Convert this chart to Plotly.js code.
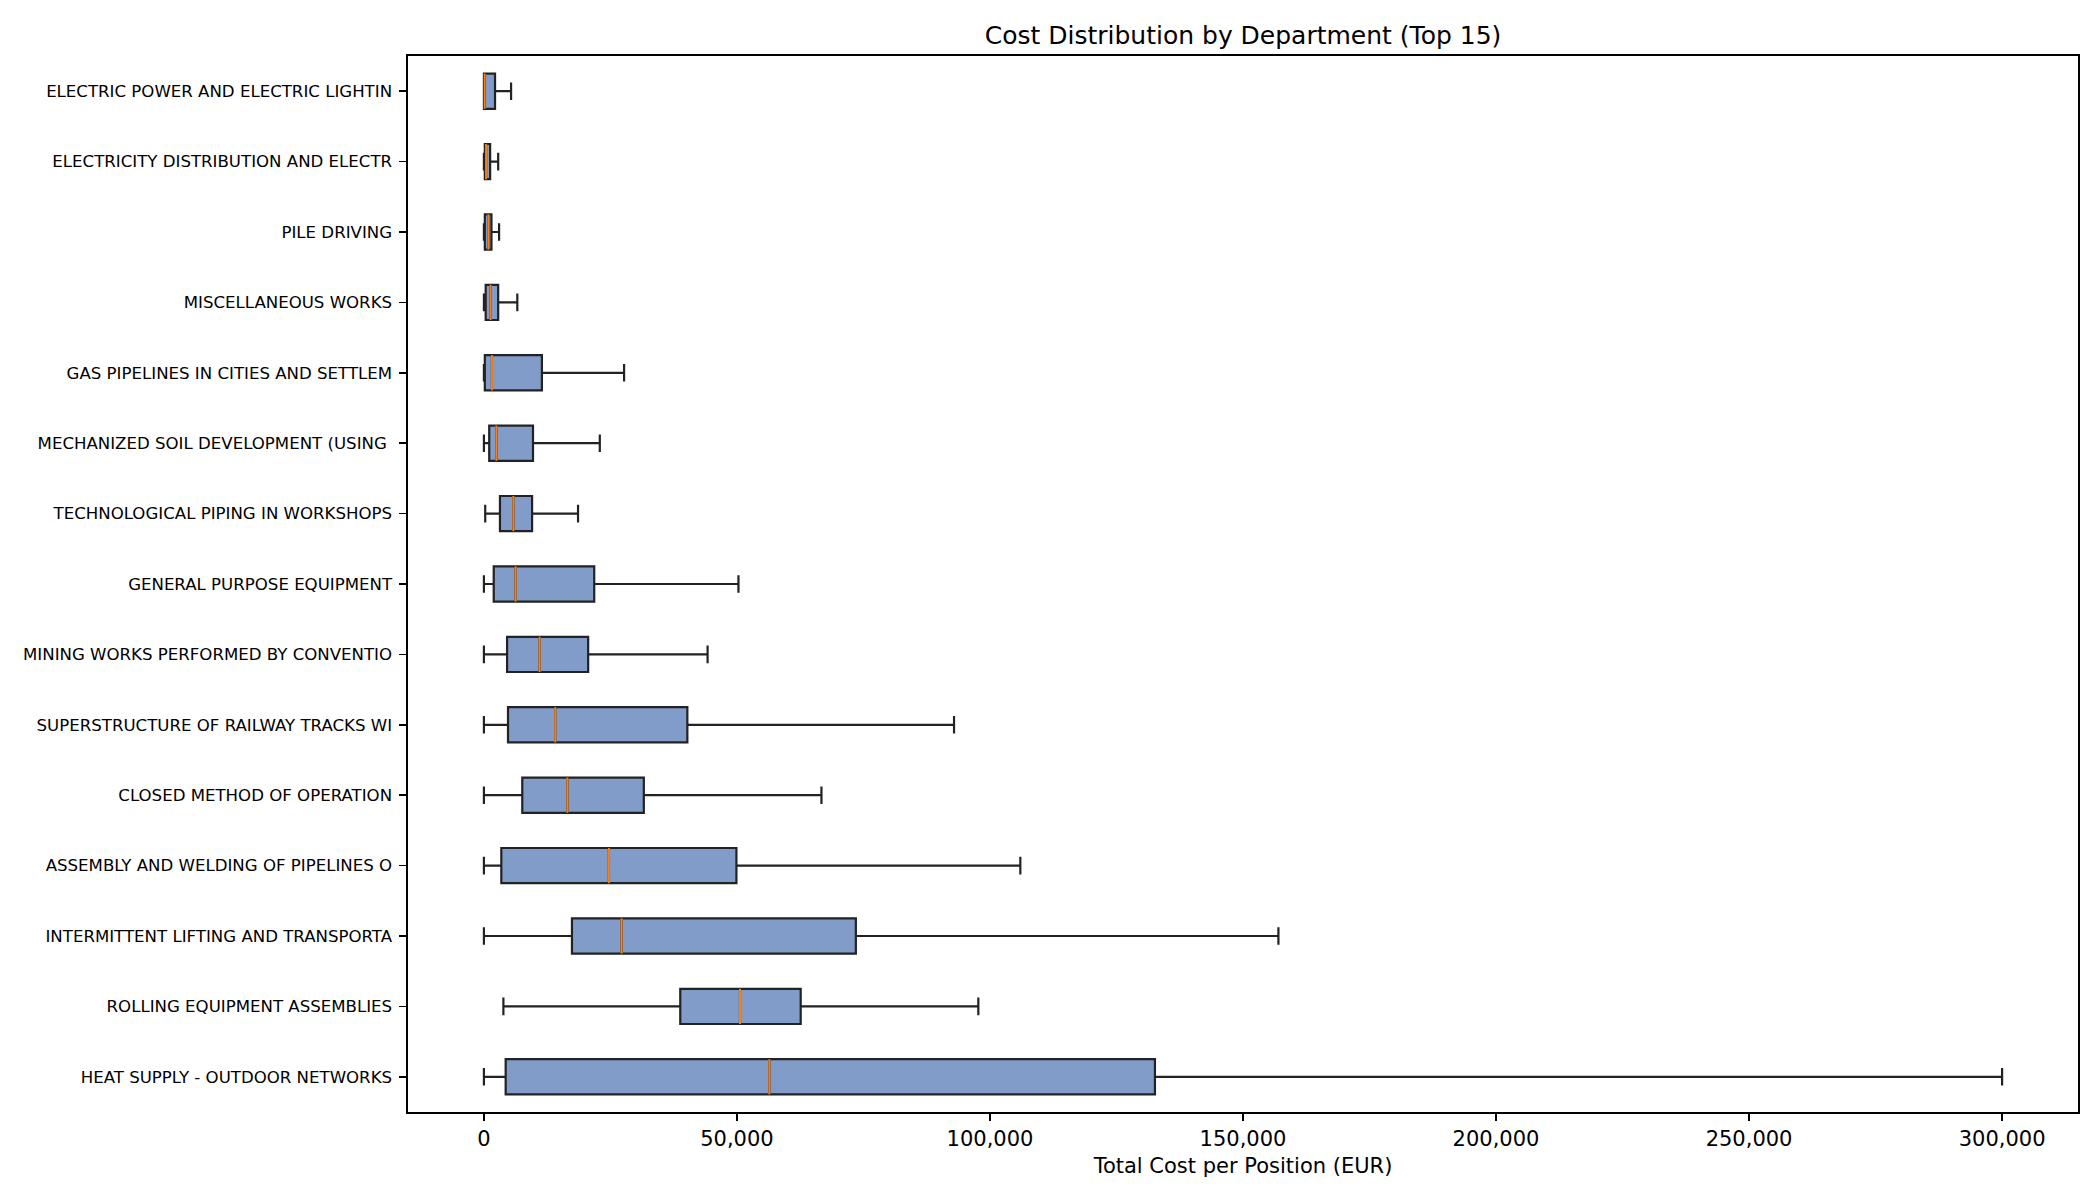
<!DOCTYPE html>
<html>
<head>
<meta charset="utf-8">
<script src="https://cdn.plot.ly/plotly-3.0.1.min.js"></script>
<style>
  body { margin: 0; background: #fff; }
  #chart { width: 2100px; height: 1200px; }
</style>
</head>
<body>
<div id="chart"></div>
<script>
// departments, bottom of the chart first (boxplot positions 1..15)
let departments = [
    'HEAT SUPPLY - OUTDOOR NETWORKS',
    'ROLLING EQUIPMENT ASSEMBLIES',
    'INTERMITTENT LIFTING AND TRANSPORTA',
    'ASSEMBLY AND WELDING OF PIPELINES O',
    'CLOSED METHOD OF OPERATION',
    'SUPERSTRUCTURE OF RAILWAY TRACKS WI',
    'MINING WORKS PERFORMED BY CONVENTIO',
    'GENERAL PURPOSE EQUIPMENT',
    'TECHNOLOGICAL PIPING IN WORKSHOPS',
    'MECHANIZED SOIL DEVELOPMENT (USING\u00a0',
    'GAS PIPELINES IN CITIES AND SETTLEM',
    'MISCELLANEOUS WORKS',
    'PILE DRIVING',
    'ELECTRICITY DISTRIBUTION AND ELECTR',
    'ELECTRIC POWER AND ELECTRIC LIGHTIN'
]

let lowWhisker = [0, 3850, 0, 0, 0, 0, 0, 0, 260, 0, 0, 0, 0, 0, 0]
let q1 = [4300, 38800, 17400, 3440, 7580, 4760, 4580, 1940, 3170, 1050, 180, 350, 180, 180, 0]
let median = [56400, 50600, 27200, 24700, 16500, 14100, 11000, 6260, 5820, 2460, 1580, 1320, 890, 430, 150]
let q3 = [132600, 62600, 73500, 49900, 31600, 40200, 20600, 21800, 9520, 9700, 11460, 2820, 1490, 1230, 2200]
let highWhisker = [300000, 97700, 157000, 106000, 66700, 92900, 44200, 50300, 18600, 22900, 27700, 6600, 3000, 2820, 5370]

let xTicks = [0, 50000, 100000, 150000, 200000, 250000, 300000]

var positions = departments.map(function (d, i) { return i + 1 })
var halfWidth = 0.25

var boxes = {
    type: 'box',
    orientation: 'h',
    y: positions,
    q1: q1,
    median: median,
    q3: q3,
    lowerfence: lowWhisker,
    upperfence: highWhisker,
    width: halfWidth * 2,
    whiskerwidth: 0.5,
    boxpoints: false,
    fillcolor: 'rgba(76,114,176,0.7)',
    line: { color: '#222222', width: 2.2 },
    hoverinfo: 'skip',
    showlegend: false
}

// orange median lines drawn on top of the boxes
var mx = []
var my = []
median.forEach(function (m, i) {
    mx.push(m, m, null)
    my.push(positions[i] - halfWidth, positions[i] + halfWidth, null)
})
var medians = {
    type: 'scatter',
    mode: 'lines',
    x: mx,
    y: my,
    line: { color: '#ff7f0e', width: 2 },
    hoverinfo: 'skip',
    showlegend: false
}

var layout = {
    width: 2100,
    height: 1200,
    paper_bgcolor: '#ffffff',
    plot_bgcolor: '#ffffff',
    font: { family: 'DejaVu Sans', color: '#000000' },
    margin: { l: 408, r: 22, t: 56, b: 88 },
    title: {
        text: 'Cost Distribution by Department (Top 15)',
        font: { size: 25, family: 'DejaVu Sans', color: '#000000' },
        x: 0.5, xref: 'paper', xanchor: 'center',
        y: 1 - 35 / 1200, yref: 'container', yanchor: 'middle'
    },
    xaxis: {
        range: [-15000, 315000],
        tickmode: 'array',
        tickvals: xTicks,
        tickformat: ',d',
        ticks: 'outside', ticklen: 7, tickwidth: 1.6, tickcolor: '#000000',
        tickfont: { size: 21 },
        showline: true, linecolor: '#000000', linewidth: 1.6, mirror: true,
        showgrid: false, zeroline: false,
        title: { text: 'Total Cost per Position (EUR)', font: { size: 21 }, standoff: 8 }
    },
    yaxis: {
        range: [0.5, departments.length + 0.5],
        tickmode: 'array',
        tickvals: positions,
        ticktext: departments,
        ticks: 'outside', ticklen: 7, tickwidth: 1.6, tickcolor: '#000000',
        tickfont: { size: 16.6 },
        ticklabelstandoff: 4,
        showline: true, linecolor: '#000000', linewidth: 1.6, mirror: true,
        showgrid: false, zeroline: false
    }
}

Plotly.newPlot('chart', [boxes, medians], layout, { staticPlot: true })
</script>
</body>
</html>
